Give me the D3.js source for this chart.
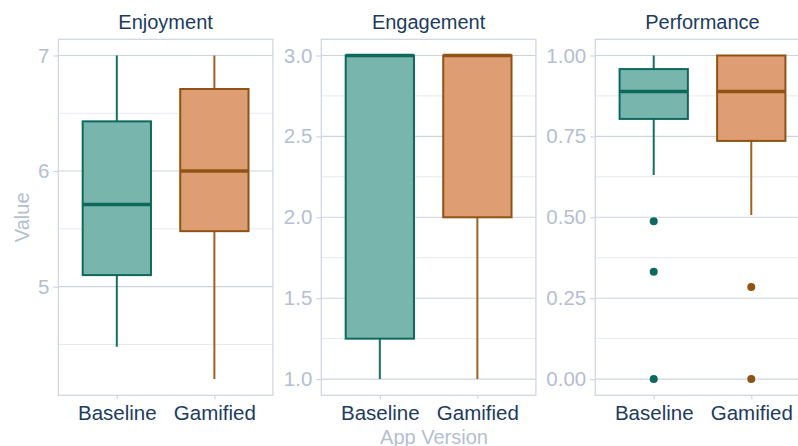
<!DOCTYPE html>
<html>
<head>
<meta charset="utf-8">
<script src="https://cdn.jsdelivr.net/npm/d3@7"></script>
<style>
  html, body { margin: 0; padding: 0; background: #ffffff; }
  svg { display: block; font-family: "Liberation Sans", Arial, Helvetica, sans-serif; }
</style>
</head>
<body>
<svg id="chart" width="798" height="446"></svg>
<script>
// Facets and groups
const metrics = ["Enjoyment", "Engagement", "Performance"];
const versions = ["Baseline", "Gamified"];

// Box summaries per version: [lower whisker, Q1, median, Q3, upper whisker]
const enjoymentBoxes = [[4.48, 5.10, 5.71, 6.43, 7.0], [4.20, 5.48, 6.0, 6.71, 7.0]];
const engagementBoxes = [[1.0, 1.25, 3.0, 3.0, 3.0], [1.0, 2.0, 3.0, 3.0, 3.0]];
const performanceBoxes = [[0.631, 0.804, 0.889, 0.958, 1.0], [0.507, 0.736, 0.889, 1.0, 1.0]];

// Outlying observations per version
const enjoymentOutliers = [[], []];
const engagementOutliers = [[], []];
const performanceOutliers = [[0.488, 0.332, 0.0], [0.285, 0.0]];

// Axis ticks per facet
const enjoymentTicks = [5, 6, 7];
const engagementTicks = [1.0, 1.5, 2.0, 2.5, 3.0];
const performanceTicks = [0.0, 0.25, 0.5, 0.75, 1.0];
const tickFormats = [d3.format("d"), d3.format(".1f"), d3.format(".2f")];

const facetBoxes = [enjoymentBoxes, engagementBoxes, performanceBoxes];
const facetOutliers = [enjoymentOutliers, engagementOutliers, performanceOutliers];
const facetTicks = [enjoymentTicks, engagementTicks, performanceTicks];

const fills = ["#78b5ac", "#de9d72"];
const strokes = ["#0d695c", "#8f5414"];
const whiskerStrokes = ["#15705f", "#a2621f"];

const titleColor = "#1c3b5e";
const labelColor = "#b5bed2";
const majorGrid = "#cdd3e1";
const minorGrid = "#e6e9f1";
const titleSize = 20;
const tickSize = 20.5;

const svg = d3.select("#chart");

// Panel geometry
const panelTop = 39.3, panelBottom = 395.3, panelWidth = 214.6;
const panelLefts = [58.3, 321.3, 595.2];

metrics.forEach((metric, i) => {
  const x0 = panelLefts[i], x1 = x0 + panelWidth;
  const boxes = facetBoxes[i], outs = facetOutliers[i];

  // y domain: data extent with 5% padding
  const all = boxes.flat().concat(outs.flat());
  const lo = d3.min(all), hi = d3.max(all), pad = (hi - lo) * 0.05;
  const y = d3.scaleLinear().domain([lo - pad, hi + pad]).range([panelBottom, panelTop]);

  // discrete x with 0.6 units of padding on each side
  const x = d3.scaleLinear().domain([0.4, versions.length + 0.6]).range([x0, x1]);
  const unit = x(1) - x(0);
  const boxW = 0.7 * unit;

  const g = svg.append("g");

  // Clip region for panel contents
  const clipId = "clip" + i;
  svg.append("clipPath").attr("id", clipId)
    .append("rect").attr("x", x0).attr("y", panelTop).attr("width", panelWidth).attr("height", panelBottom - panelTop);

  const ticks = facetTicks[i];
  const step = ticks[1] - ticks[0];
  const minor = [];
  for (let t = ticks[0] - step / 2; t <= hi + pad; t += step) {
    if (t >= lo - pad) minor.push(t);
  }

  const grid = g.append("g").attr("clip-path", `url(#${clipId})`);
  grid.selectAll("line.minor").data(minor).join("line")
    .attr("x1", x0).attr("x2", x1)
    .attr("y1", d => y(d)).attr("y2", d => y(d))
    .attr("stroke", minorGrid).attr("stroke-width", 1);
  grid.selectAll("line.major").data(ticks).join("line")
    .attr("x1", x0).attr("x2", x1)
    .attr("y1", d => y(d)).attr("y2", d => y(d))
    .attr("stroke", majorGrid).attr("stroke-width", 1.1);

  // Boxplots
  const marks = g.append("g").attr("clip-path", `url(#${clipId})`);
  versions.forEach((v, j) => {
    const b = boxes[j];
    const cx = x(j + 1);
    marks.append("line")
      .attr("x1", cx).attr("x2", cx).attr("y1", y(b[0])).attr("y2", y(b[1]))
      .attr("stroke", whiskerStrokes[j]).attr("stroke-width", 2);
    marks.append("line")
      .attr("x1", cx).attr("x2", cx).attr("y1", y(b[3])).attr("y2", y(b[4]))
      .attr("stroke", whiskerStrokes[j]).attr("stroke-width", 2);
    marks.append("rect")
      .attr("x", cx - boxW / 2).attr("width", boxW)
      .attr("y", y(b[3])).attr("height", y(b[1]) - y(b[3]))
      .attr("fill", fills[j]).attr("stroke", strokes[j]).attr("stroke-width", 2);
    marks.append("line")
      .attr("x1", cx - boxW / 2).attr("x2", cx + boxW / 2)
      .attr("y1", y(b[2])).attr("y2", y(b[2]))
      .attr("stroke", strokes[j]).attr("stroke-width", 3.5);
    marks.selectAll(null).data(outs[j]).join("circle")
      .attr("cx", cx).attr("cy", d => y(d)).attr("r", 4)
      .attr("fill", strokes[j]);
  });

  // Panel border
  g.append("rect")
    .attr("x", x0).attr("y", panelTop).attr("width", panelWidth).attr("height", panelBottom - panelTop)
    .attr("fill", "none").attr("stroke", majorGrid).attr("stroke-width", 1.2);

  // Y axis
  const yAxis = g.append("g").attr("transform", `translate(${x0},0)`)
    .call(d3.axisLeft(y).tickValues(ticks).tickFormat(tickFormats[i]).tickSize(5).tickPadding(4));
  yAxis.select(".domain").remove();
  yAxis.selectAll(".tick line").attr("stroke", majorGrid).attr("stroke-width", 1.1);
  yAxis.selectAll(".tick text").attr("fill", labelColor)
    .style("font-size", tickSize + "px").style("font-family", "Liberation Sans, Arial, sans-serif");

  // X axis
  const xAxis = g.append("g").attr("transform", `translate(0,${panelBottom})`)
    .call(d3.axisBottom(x).tickValues(versions.map((v, j) => j + 1)).tickFormat(d => versions[d - 1]).tickSize(4).tickPadding(6));
  xAxis.select(".domain").remove();
  xAxis.selectAll(".tick line").attr("stroke", majorGrid).attr("stroke-width", 1.1);
  xAxis.selectAll(".tick text").attr("fill", titleColor)
    .style("font-size", tickSize + "px").style("font-family", "Liberation Sans, Arial, sans-serif");

  // Facet title
  g.append("text")
    .attr("x", (x0 + x1) / 2).attr("y", 29)
    .attr("text-anchor", "middle")
    .attr("fill", titleColor).style("font-size", titleSize + "px")
    .text(metric);
});

// Shared axis titles
svg.append("text")
  .attr("transform", `translate(28.5,${(panelTop + panelBottom) / 2}) rotate(-90)`)
  .attr("text-anchor", "middle")
  .attr("fill", labelColor).style("font-size", titleSize + "px")
  .text("Value");

svg.append("text")
  .attr("x", (panelLefts[0] + panelLefts[2] + panelWidth) / 2).attr("y", 443.5)
  .attr("text-anchor", "middle")
  .attr("fill", labelColor).style("font-size", titleSize + "px")
  .text("App Version");
</script>
</body>
</html>
